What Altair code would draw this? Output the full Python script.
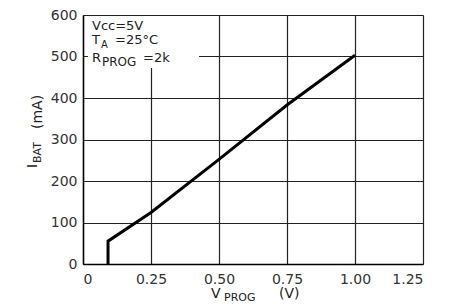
import altair as alt
import pandas as pd

# Curve data
v_prog = [0.092, 0.092, 0.25, 0.5, 0.75, 1.0]
i_bat = [0, 55, 124, 252, 383, 503]

x_ticks = [0, 0.25, 0.5, 0.75, 1.0, 1.25]
y_ticks = [0, 100, 200, 300, 400, 500, 600]

FONT = "DejaVu Sans"
TXT = "#222222"
OX, OY = 83, 15  # plot origin in page pixels

df = pd.DataFrame({"v": v_prog, "i": i_bat, "idx": list(range(len(v_prog)))})

line = alt.Chart(df).mark_line(color="black", strokeWidth=3, strokeJoin="miter").encode(
    x=alt.X("v:Q", scale=alt.Scale(domain=[0, 1.25], nice=False),
            axis=alt.Axis(values=x_ticks,
                          labelExpr="datum.value == 0 ? '0' : format(datum.value, '.2f')",
                          title=None, grid=True, gridColor="#222", gridWidth=1.2,
                          domainColor="black", domainWidth=1.5, ticks=False,
                          labelFont=FONT, labelFontSize=14, labelColor="#333",
                          labelPadding=8)),
    y=alt.Y("i:Q", scale=alt.Scale(domain=[0, 600], nice=False),
            axis=alt.Axis(values=y_ticks, title=None, grid=True, gridColor="#222", gridWidth=1.2,
                          domainColor="black", domainWidth=1.5, ticks=False,
                          labelFont=FONT, labelFontSize=14, labelColor="#333",
                          labelPadding=6)),
    order=alt.Order("idx:Q"),
)

one = alt.Chart(pd.DataFrame({"a": [0]}))

# white box behind the annotation
box = one.mark_rect(color="white").encode(
    x=alt.value(88 - OX), x2=alt.value(199 - OX), y=alt.value(1), y2=alt.value(68 - OY)
)

# (text, page x, page y, size, angle)
labels = [
    ("Vcc=5V", 92, 30, 13, 0),
    ("T", 92, 44, 13, 0),
    ("A", 101, 48, 10, 0),
    ("=25°C", 115, 44, 13, 0),
    ("R", 92, 62, 13, 0),
    ("PROG", 102, 66, 12, 0),
    ("=2k", 143, 62, 13, 0),
    ("V", 211, 298, 14, 0),
    ("PROG", 224, 301, 11, 0),
    ("(V)", 279, 298, 14, 0),
    ("I", 37, 168, 14, 270),
    ("BAT", 41, 163, 11, 270),
    ("(mA)", 42, 129, 14, 270),
]

text_layers = []
for t, x, y, s, a in labels:
    text_layers.append(
        one.mark_text(text=t, align="left", baseline="alphabetic", font=FONT,
                      fontSize=s, color=TXT, angle=a).encode(
            x=alt.value(x - OX), y=alt.value(y - OY))
    )

chart = alt.layer(line, box, *text_layers).properties(
    width=340, height=249,
    padding={"left": 75, "top": 7, "right": 25, "bottom": 40},
    autosize="none",
).configure_view(stroke="black", strokeWidth=1.5).configure(background="white")

chart.save("out.html", embed_options={"renderer": "svg", "actions": False})
